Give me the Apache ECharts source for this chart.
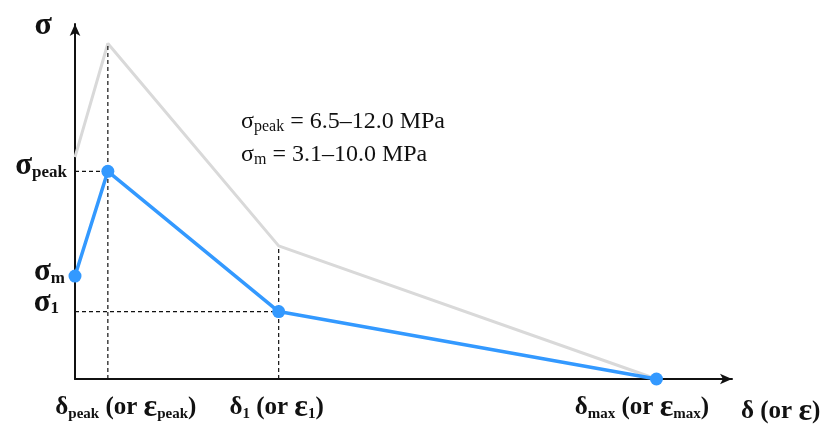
<!DOCTYPE html>
<html><head><meta charset="utf-8">
<script src="https://cdn.jsdelivr.net/npm/echarts@6/dist/echarts.min.js"></script>
<style>html,body{margin:0;padding:0;background:#fff}#c{width:821px;height:425px}</style>
</head><body><div id="c"></div>
<script>
// Trilinear softening law: schematic stress vs. displacement (or strain)
const xMarks = [1.0, 6.2, 17.7];            // δpeak, δ1, δmax
const xMarkNames = ['peak', '1', 'max'];
const yMarks = [3.8, 5.8, 11.7];            // σ1, σm, σpeak
const yMarkNames = ['1', 'm', 'peak'];
const lowerLaw = [[0, 5.8], [1.0, 11.7], [6.2, 3.8], [17.7, 0]];
const upperLaw = [[0, 12.5], [1.0, 18.9], [6.2, 7.5], [17.7, 0]];
const rangeText = ['σ{s|peak} = 6.5–12.0 MPa', 'σ{s|m} = 3.1–10.0 MPa'];

const FONT = 'Liberation Serif';
const INK = '#111';
const BLUE = '#3399ff';

// dashed guides from the axes to the lower peak and to the first kink
const guides = [
  [[0, lowerLaw[1][1]], [lowerLaw[1][0], lowerLaw[1][1]]],
  [[upperLaw[1][0], 0], [upperLaw[1][0], upperLaw[1][1]]],
  [[0, lowerLaw[2][1]], [lowerLaw[2][0], lowerLaw[2][1]]],
  [[upperLaw[2][0], 0], [upperLaw[2][0], upperLaw[2][1]]]
];

// per-label nudges for the stress labels: [lift up, extra gap on the right]
const yNudge = [['peak', 5, 0], ['m', 4, 2], ['1', 9, 8]];
const yRich = {b: {fontFamily: FONT, fontSize: 32, fontWeight: 'bold', color: INK}};
yNudge.forEach(([k, lift, gap], i) => {
  yRich['b' + i] = {fontFamily: FONT, fontSize: 31, fontWeight: 'bold', color: INK, padding: [0, 0, 2 * lift, 0]};
  yRich['s' + i] = {fontFamily: FONT, fontSize: 17, fontWeight: 'bold', color: INK, padding: [13, gap, 2 * lift, 0]};
});
const yLabel = k => {
  const i = yNudge.findIndex(n => n[0] === k);
  return '{b' + i + '|σ}{s' + i + '|' + k + '}';
};

// per-label horizontal nudges for the displacement labels: [left pad, right pad]
const xNudge = [['peak', 36, 0], ['1', 0, 4], ['max', 0, 29]];
const xRich = {
  b: {fontFamily: FONT, fontSize: 25, fontWeight: 'bold', color: INK},
  e: {fontFamily: FONT, fontSize: 32, fontWeight: 'bold', color: INK},
  s: {fontFamily: FONT, fontSize: 15, fontWeight: 'bold', color: INK, padding: [12, 0, 0, 0]}
};
xNudge.forEach(([k, left, right], i) => {
  xRich['l' + i] = {width: left, fontSize: 10};
  xRich['r' + i] = {width: right, fontSize: 10};
});
const xLabel = k => {
  const i = xNudge.findIndex(n => n[0] === k);
  return '{l' + i + '| }{b|δ}{s|' + k + '}{b| (or }{e|ε}{s|' + k + '}{b|)}{r' + i + '| }';
};

const chart = echarts.init(document.getElementById('c'));
chart.setOption({
  animation: false,
  backgroundColor: '#fff',
  grid: {left: 75, right: 89, top: 24, bottom: 46, outerBoundsMode: 'none', containLabel: false},
  xAxis: {
    type: 'value', min: 0, max: 20,
    axisLine: {lineStyle: {color: INK, width: 2}, symbol: ['none', 'arrow'], symbolSize: [8, 12]},
    axisTick: {show: false}, splitLine: {show: false},
    axisLabel: {
      customValues: xMarks, margin: 13, hideOverlap: false, showMinLabel: true, showMaxLabel: true,
      formatter: v => xLabel(xMarkNames[xMarks.indexOf(v)]),
      rich: xRich
    },
    name: '{b|δ (or }{e|ε}{b|)}', nameLocation: 'end', nameGap: 9,
    nameTextStyle: {rich: xRich, align: 'left', verticalAlign: 'top', padding: [17, 0, 0, 0]}
  },
  yAxis: {
    type: 'value', min: 0, max: 20,
    axisLine: {lineStyle: {color: INK, width: 2}, symbol: ['none', 'arrow'], symbolSize: [8, 12]},
    axisTick: {show: false}, splitLine: {show: false},
    axisLabel: {show: false},
    name: '{b|σ}', nameLocation: 'end', nameGap: -2,
    nameTextStyle: {rich: yRich, align: 'right', verticalAlign: 'middle', padding: [0, 23, 0, 0]}
  },
  series: [
    {
      type: 'line', data: upperLaw, showSymbol: false, silent: true, z: 1,
      lineStyle: {color: '#d9d9d9', width: 3}
    },
    ...guides.map(g => ({
      type: 'line', data: g, showSymbol: false, silent: true, z: 2,
      lineStyle: {color: INK, width: 1.2, type: [4, 3]}
    })),
    {
      type: 'line', data: lowerLaw, symbol: 'circle', symbolSize: 13, z: 3,
      itemStyle: {color: BLUE}, lineStyle: {color: BLUE, width: 3.5}
    },
    // stress level labels placed on the vertical axis (full opacity, solid ink)
    {
      type: 'scatter', data: yMarks.map(v => [0, v]), symbolSize: 0, silent: true, z: 4,
      itemStyle: {color: INK, opacity: 1},
      label: {
        show: true, position: 'left', distance: 8, opacity: 1, color: INK,
        textBorderWidth: 0,
        formatter: p => yLabel(yMarkNames[yMarks.indexOf(p.value[1])]),
        rich: yRich
      }
    }
  ],
  graphic: [{
    type: 'text', left: 241, top: 105,
    style: {
      text: rangeText.join('\n'),
      rich: {
        s: {fontFamily: FONT, fontSize: 16, fill: INK, padding: [10, 0, 0, 0]}
      },
      fontFamily: FONT, fontSize: 24, fill: INK, lineHeight: 33
    }
  }]
});
</script></body></html>
